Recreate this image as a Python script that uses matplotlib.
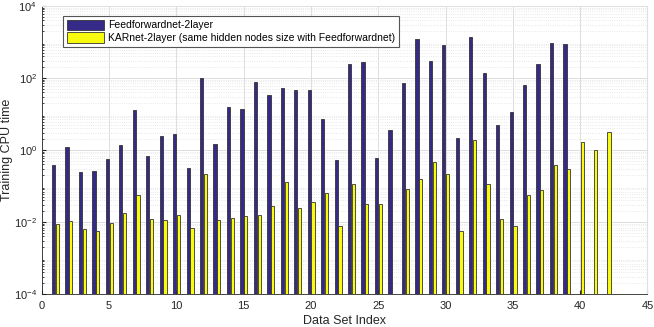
import matplotlib.pyplot as plt
import numpy as np

plt.rcParams["font.family"] = ["Liberation Sans", "DejaVu Sans"]

# training CPU time per data set (seconds)
dataset_idx = np.arange(1, 43)
ffn_time = [0.38, 1.2, 0.24, 0.26, 0.55, 1.4, 13, 0.7, 2.4, 2.8,
            0.31, 100, 1.45, 16, 14, 76, 34, 53, 46, 47,
            7.0, 0.51, 250, 270, 0.59, 3.6, 72, 1200, 295, 810,
            2.2, 1350, 140, 4.9, 11, 64, 240, 910, 860,
            np.nan, np.nan, np.nan]
kar_time = [0.0085, 0.0107, 0.0063, 0.0055, 0.0091, 0.018, 0.056, 0.0119, 0.0114, 0.0156,
            0.0069, 0.22, 0.0115, 0.0125, 0.0145, 0.0155, 0.027, 0.125, 0.025, 0.035,
            0.062, 0.0079, 0.114, 0.032, 0.032, np.nan, 0.081, 0.156, 0.46, 0.21,
            0.0055, 1.9, 0.114, 0.0119, 0.0079, 0.055, 0.076, 0.38, 0.29,
            1.67, 0.98, 3.2]

labels = ["Feedforwardnet-2layer",
          "KARnet-2layer (same hidden nodes size with Feedforwardnet)"]

fig = plt.figure(figsize=(6.54, 3.27), dpi=100)
ax = fig.add_axes([0.064, 0.101, 0.926, 0.881])

w = 0.24
ax.bar(dataset_idx - 0.13, ffn_time, width=w, color="#352a87", edgecolor="#333333",
       linewidth=0.6, label=labels[0], zorder=3)
ax.bar(dataset_idx + 0.15, kar_time, width=w, color="#f9fb0e", edgecolor="#333333",
       linewidth=0.6, label=labels[1], zorder=3)

ax.set_yscale("log")
ax.set_ylim(1e-4, 1e4)
ax.set_xlim(0, 45)
ax.set_xticks(np.arange(0, 46, 5))
ax.set_yticks([1e-4, 1e-2, 1e0, 1e2, 1e4])

ax.grid(True, which="major", color="#dddddd", linewidth=0.7, zorder=0)
ax.grid(True, which="minor", axis="y", color="#e2e2e2", linestyle=":", linewidth=0.6, zorder=0)

ax.tick_params(which="both", direction="in", labelsize=8, colors="#262626")
ax.tick_params(which="major", length=3)
ax.tick_params(axis="x", pad=5)
ax.tick_params(axis="y", which="minor", length=1.5)
for s in ["top", "right"]:
    ax.spines[s].set_color("#e0e0e0")
for s in ["left", "bottom"]:
    ax.spines[s].set_color("#262626")
    ax.spines[s].set_linewidth(0.6)

ax.set_xlabel("Data Set Index", fontsize=9, color="#262626", labelpad=3)
ax.set_ylabel("Training CPU time", fontsize=9, color="#262626")
ax.yaxis.set_label_coords(-0.047, 0.5)

leg = ax.legend(loc="upper left", bbox_to_anchor=(0.035, 0.965), fontsize=7.5,
                fancybox=False, framealpha=1, edgecolor="#555555",
                handlelength=3.6, handleheight=1.2, handletextpad=0.4,
                borderpad=0.35, labelspacing=0.15, borderaxespad=0)
leg.get_frame().set_linewidth(0.8)

fig.savefig("out.png", dpi=100)
